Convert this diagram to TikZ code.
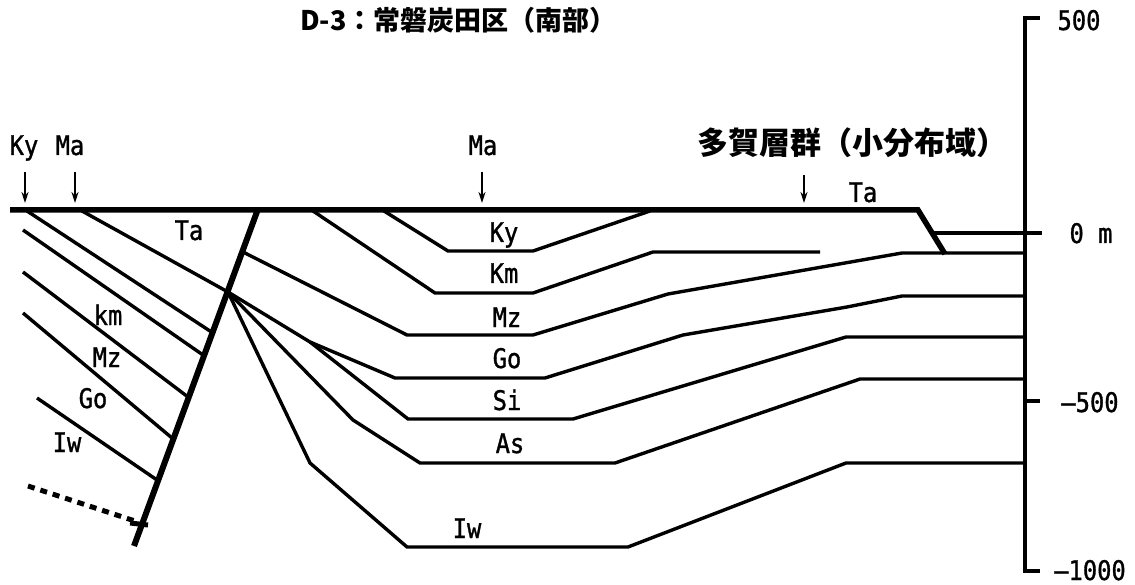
\documentclass[tikz,border=0pt]{standalone}
\usepackage{fontspec}
\usetikzlibrary{arrows.meta}
\newfontfamily\jpfont{Noto Sans CJK JP}
\newfontfamily\labfont{DejaVu Sans Mono}[FakeStretch=0.88,FakeBold=1.2]
\begin{document}
\begin{tikzpicture}[x=1pt,y=-1pt,
  layer/.style={line width=3.4pt},
  surf/.style={line width=5.5pt},
  faultline/.style={line width=6pt},
  barline/.style={line width=4pt},
  dashline/.style={line width=5pt,dash pattern=on 7pt off 6pt},
  pointer/.style={line width=1.8pt,-{Stealth[length=11pt,width=7pt]}},
  unit/.style={font=\labfont\fontsize{27}{27}\selectfont,anchor=base,inner sep=0pt},
  jptitle/.style={font=\jpfont\bfseries\fontsize{27}{27}\selectfont,anchor=west,inner sep=0pt},
  jpsub/.style={font=\jpfont\bfseries\fontsize{31}{31}\selectfont,anchor=west,inner sep=0pt}]
\useasboundingbox (0,0) rectangle (1135,585);

% key points
\coordinate (ftop) at (258,209);
\coordinate (fbot) at (134,546);
\coordinate (fan) at (228,292);

% ---------- headings ----------
\node[jptitle] (title) at (300,20) {D-3：常磐炭田区（南部）};
\node[jpsub] (sub) at (697,143) {多賀層群（小分布域）};

% ---------- surface markers ----------
\node[unit] (kyw) at (24,155) {Ky};
\node[unit] (maw) at (70,155) {Ma};
\node[unit] (mac) at (483,155) {Ma};
\node[unit] (tae) at (863,202) {Ta};
\coordinate (p1a) at (25,172);  \coordinate (p1b) at (25,203);
\coordinate (p2a) at (75,172);  \coordinate (p2b) at (75,203);
\coordinate (p3a) at (482,172); \coordinate (p3b) at (482,203);
\coordinate (p4a) at (804,175); \coordinate (p4b) at (804,203);
\draw[pointer] (p1a) -- (p1b);
\draw[pointer] (p2a) -- (p2b);
\draw[pointer] (p3a) -- (p3b);
\draw[pointer] (p4a) -- (p4b);

% ---------- western block ----------
\draw[layer] (82,211) -- (fan);
\draw[layer] (27,211) -- (213,333);
\draw[layer] (23,230) -- (203,355);
\draw[layer] (23,272) -- (188,397);
\draw[layer] (23,313) -- (172,438);
\draw[layer] (37,398) -- (157,480);
\draw[dashline] (28,486) -- (138,522);
\draw[line width=5pt] (130,523) -- (148,525);

\node[unit] (taw) at (189,240) {Ta};
\node[unit] (kmw) at (108,325) {km};
\node[unit] (mzw) at (107,367) {Mz};
\node[unit] (gow) at (93,408) {Go};
\node[unit] (iww) at (67,452) {Iw};

% ---------- eastern basin ----------
\draw[layer] (384,211) -- (448,251) -- (533,251) -- (650,211);
\draw[layer] (313,211) -- (435,293) -- (533,293) -- (653,252) -- (820,252);
\draw[layer] (243,252) -- (407,335) -- (533,335) -- (668,294) -- (902,253) -- (1025,253);
\draw[layer] (fan) -- (310,342) -- (395,378) -- (545,378) -- (683,335) -- (847,307) -- (902,296) -- (1025,296);
\draw[layer] (310,342) -- (408,419) -- (573,419) -- (846,337) -- (1025,337);
\draw[layer] (fan) -- (353,420) -- (420,463) -- (615,463) -- (860,379) -- (1025,379);
\draw[layer] (fan) -- (310,463) -- (407,547) -- (628,547) -- (846,463) -- (1025,463);

\node[unit] (kyc) at (504,242) {Ky};
\node[unit] (kmc) at (504,283) {Km};
\node[unit] (mzc) at (507,327) {Mz};
\node[unit] (goc) at (507,368) {Go};
\node[unit] (sic) at (507,410) {Si};
\node[unit] (asc) at (510,453) {As};
\node[unit] (iwc) at (467,538) {Iw};

% ---------- Taga outlier at the east end ----------
\draw[layer] (933,233) -- (1042,233);

% ---------- surface and fault ----------
\draw[surf] (10,210) -- (918,210) -- (945,254);
\draw[faultline] (ftop) -- (fbot);

% ---------- depth scale ----------
\draw[barline] (1040,18) -- (1025,18) -- (1025,571) -- (1040,571);
\draw[barline] (1025,401) -- (1040,401);
\node[unit] (s500) at (1079,30) {500};
\node[unit] (s0) at (1091,243) {0 m};
\node[unit] (s500n) at (1090,412) {–500};
\node[unit] (s1000n) at (1090,580) {–1000};
\end{tikzpicture}
\end{document}
